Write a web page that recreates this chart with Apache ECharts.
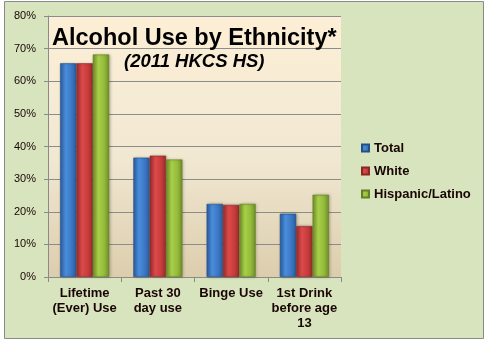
<!DOCTYPE html>
<html>
<head>
<meta charset="utf-8">
<script src="https://cdn.jsdelivr.net/npm/echarts@6/dist/echarts.min.js"></script>
<style>
  html, body { margin: 0; padding: 0; background: #ffffff; }
  #chart { width: 490px; height: 341px; }
</style>
</head>
<body>
<div id="chart"></div>
<script>
// Alcohol use by ethnicity, 2011 HKCS high school survey (percent of students)
const categories = ['Lifetime\n(Ever) Use', 'Past 30\nday use', 'Binge Use', '1st Drink\nbefore age\n13'];
const seriesNames = ['Total', 'White', 'Hispanic/Latino'];
const totalValues = [65.5, 36.6, 22.4, 19.4];
const whiteValues = [65.5, 37.2, 22.1, 15.6];
const hispanicValues = [68.2, 36.0, 22.4, 25.2];
const yTicks = [0, 10, 20, 30, 40, 50, 60, 70, 80];

const FONT = '"Liberation Sans", Arial, sans-serif';

function barGradient(edge, mid, light) {
  return new echarts.graphic.LinearGradient(0, 0, 1, 0, [
    { offset: 0, color: edge },
    { offset: 0.35, color: light },
    { offset: 0.7, color: mid },
    { offset: 1, color: edge }
  ]);
}

const palettes = [
  { edge: '#2b5c9e', mid: '#3b78c4', light: '#4a8ddc', border: '#24508a' },
  { edge: '#9a2c2c', mid: '#c83c3c', light: '#dc4a4a', border: '#8a2828' },
  { edge: '#6f8e28', mid: '#94bb3a', light: '#a8cf48', border: '#647f24' }
];
const valueSets = [totalValues, whiteValues, hispanicValues];

const chart = echarts.init(document.getElementById('chart'), null, { renderer: 'canvas' });

chart.setOption({
  animation: false,
  backgroundColor: '#ffffff',
  graphic: [
    {
      type: 'rect', z: -10, silent: true,
      shape: { x: 4.5, y: 1.5, width: 479, height: 337 },
      style: { fill: '#d7e4bd', stroke: '#8a8a8a', lineWidth: 1 }
    },
    {
      type: 'text', z: 10, left: 52, top: 27,
      style: {
        text: 'Alcohol Use by Ethnicity*',
        font: 'bold 23.5px ' + FONT,
        fill: '#000000'
      }
    },
    {
      type: 'text', z: 10, left: 124, top: 52,
      style: {
        text: '(2011 HKCS HS)',
        font: 'italic bold 18.5px ' + FONT,
        fill: '#000000'
      }
    }
  ],
  grid: {
    left: 48, right: 149, top: 16, bottom: 64,
    show: true,
    borderWidth: 0,
    backgroundColor: new echarts.graphic.LinearGradient(0, 0, 0, 1, [
      { offset: 0, color: '#fdefd6' },
      { offset: 0.55, color: '#f1e8d2' },
      { offset: 1, color: '#dccdac' }
    ])
  },
  legend: {
    orient: 'vertical',
    left: 356, top: 136,
    itemWidth: 7, itemHeight: 7,
    itemGap: 9,
    icon: 'rect',
    textStyle: { fontFamily: FONT, fontWeight: 'bold', fontSize: 13, color: '#1a0505', lineHeight: 14 },
    data: seriesNames
  },
  xAxis: {
    type: 'category',
    data: categories,
    axisLine: { show: true, lineStyle: { color: '#8a8a8a', width: 1 } },
    axisTick: { show: true, length: 5, lineStyle: { color: '#8a8a8a' } },
    axisLabel: {
      interval: 0,
      margin: 9,
      fontFamily: FONT, fontWeight: 'bold', fontSize: 13, color: '#1a0505',
      lineHeight: 15, align: 'center'
    }
  },
  yAxis: {
    type: 'value',
    min: yTicks[0], max: yTicks[yTicks.length - 1], interval: 10,
    axisLine: { show: true, lineStyle: { color: '#8a8a8a', width: 1 } },
    axisTick: { show: true, length: 4, lineStyle: { color: '#8a8a8a' } },
    splitLine: { show: true, lineStyle: { color: '#8c8c8c', width: 1 } },
    axisLabel: {
      margin: 12,
      fontFamily: FONT, fontSize: 11, color: '#1a0505',
      formatter: v => v + '%'
    }
  },
  series: seriesNames.map((name, i) => ({
    name: name,
    type: 'bar',
    data: valueSets[i],
    barGap: '0%',
    barCategoryGap: '33%',
    itemStyle: {
      color: barGradient(palettes[i].edge, palettes[i].mid, palettes[i].light),
      borderColor: palettes[i].border,
      borderWidth: 0.6,
      shadowColor: 'rgba(0,0,0,0.25)',
      shadowBlur: 3,
      shadowOffsetX: 1
    }
  }))
});
</script>
</body>
</html>
